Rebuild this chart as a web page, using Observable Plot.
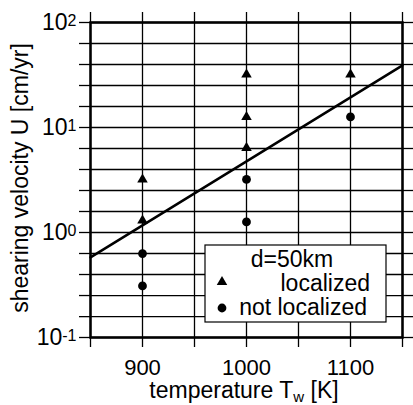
<!DOCTYPE html>
<html>
<head>
<meta charset="utf-8">
<script src="https://cdn.jsdelivr.net/npm/d3@7"></script>
<script src="https://cdn.jsdelivr.net/npm/@observablehq/plot@0.6"></script>
<style>
  html, body { margin: 0; padding: 0; background: white; }
  svg { display: block; }
</style>
</head>
<body>
<div id="chart"></div>
<script>
// ---- data ----
const localizedT = [900, 900, 1000, 1000, 1000, 1100];
const localizedU = [3.2, 1.3, 32, 12.6, 6.4, 32];
const notLocalizedT = [900, 900, 1000, 1000, 1100];
const notLocalizedU = [0.63, 0.31, 3.2, 1.26, 12.6];
const lineT = [850, 1150];
const lineU = [0.58, 39];

// ---- ticks ----
const xGrid = [850, 900, 950, 1000, 1050, 1100, 1150];
const xTickLabels = [900, 1000, 1100];
const yGrid = [0.1, 0.158, 0.251, 0.398, 0.631, 1, 1.585, 2.512, 3.981, 6.31,
               10, 15.85, 25.12, 39.81, 63.1, 100];
const yDecades = [0.1, 1, 10, 100];
const yDecadeExp = ["-1", "0", "1", "2"];

const localized = localizedT.map((t, i) => ({t, u: localizedU[i]}));
const notLocalized = notLocalizedT.map((t, i) => ({t, u: notLocalizedU[i]}));
const fitLine = lineT.map((t, i) => ({t, u: lineU[i]}));

const FONT = "'Liberation Sans', Arial, Helvetica, sans-serif";
const gridStyle = {stroke: "black", strokeOpacity: 1, strokeWidth: 1.3};

const plot = Plot.plot({
  width: 413,
  height: 405,
  marginLeft: 90,
  marginRight: 11,
  marginTop: 22,
  marginBottom: 68,
  style: {fontFamily: FONT, fontSize: "23px", background: "white", color: "black"},
  x: {domain: [850, 1150]},
  y: {type: "log", domain: [0.1, 100]},
  marks: [
    Plot.gridX(xGrid, gridStyle),
    Plot.gridY(yGrid, gridStyle),
    Plot.axisX(xGrid, {anchor: "bottom", tickSize: 10, tickPadding: 12, strokeWidth: 1.3, fontSize: 22,
      tickFormat: d => xTickLabels.includes(d) ? String(d) : "", label: null}),
    Plot.axisX(xGrid, {anchor: "top", tickSize: 11, strokeWidth: 1.3, tickFormat: () => "", label: null}),
    Plot.axisY(yGrid, {anchor: "left", tickSize: 11, tickPadding: 3, strokeWidth: 1.3,
      tickFormat: d => {
        const k = yDecades.findIndex(v => Math.abs(v - d) < 1e-9);
        return k >= 0 ? "10^" + yDecadeExp[k] : "";
      }, label: null}),
    Plot.axisY(yGrid, {anchor: "right", tickSize: 11, strokeWidth: 1.3, tickFormat: () => "", label: null}),
    Plot.frame({stroke: "black", strokeWidth: 2.5}),
    Plot.line(fitLine, {x: "t", y: "u", stroke: "black", strokeWidth: 2.5}),
    Plot.dot(localized, {x: "t", y: "u", symbol: "triangle", r: 3.9, fill: "black", stroke: "none"}),
    Plot.dot(notLocalized, {x: "t", y: "u", symbol: "circle", r: 4.4, fill: "black", stroke: "none"})
  ]
});

document.getElementById("chart").appendChild(plot);
const svg = d3.select(plot);

// superscripts on the y tick labels
svg.selectAll("text").each(function() {
  const el = d3.select(this);
  const txt = this.textContent;
  if (txt.includes("^") && this.children.length === 0) {
    const [base, exp] = txt.split("^");
    el.text(null);
    el.append("tspan").text(base);
    el.append("tspan").attr("font-size", "16px").attr("dy", "-3.5").text(exp);
  }
});

// axis titles
svg.append("text")
  .attr("x", 244).attr("y", 398)
  .attr("text-anchor", "middle")
  .attr("font-family", FONT).attr("font-size", "23px").attr("fill", "black")
  .call(t => {
    t.append("tspan").text("temperature T");
    t.append("tspan").attr("font-size", "15px").attr("dy", "4").text("w");
    t.append("tspan").attr("dy", "-4").text(" [K]");
  });

svg.append("text")
  .attr("transform", "translate(28,178) rotate(-90)")
  .attr("text-anchor", "middle")
  .attr("font-family", FONT).attr("font-size", "23px").attr("fill", "black")
  .text("shearing velocity U [cm/yr]");

// legend box
const lg = svg.append("g").attr("font-family", FONT).attr("font-size", "23px").attr("fill", "black");
lg.append("rect").attr("x", 205).attr("y", 245).attr("width", 181).attr("height", 77)
  .attr("fill", "white").attr("stroke", "black").attr("stroke-width", 1.2);
lg.append("text").attr("x", 292).attr("y", 267).attr("text-anchor", "middle").text("d=50km");
lg.append("path").attr("transform", "translate(222,282)")
  .attr("d", d3.symbol(d3.symbolTriangle, Math.PI * 3.9 * 3.9)()).attr("fill", "black");
lg.append("text").attr("x", 370).attr("y", 291).attr("text-anchor", "end").text("localized");
lg.append("circle").attr("cx", 222).attr("cy", 308).attr("r", 4.4).attr("fill", "black");
lg.append("text").attr("x", 367).attr("y", 315).attr("text-anchor", "end").text("not localized");
</script>
</body>
</html>
